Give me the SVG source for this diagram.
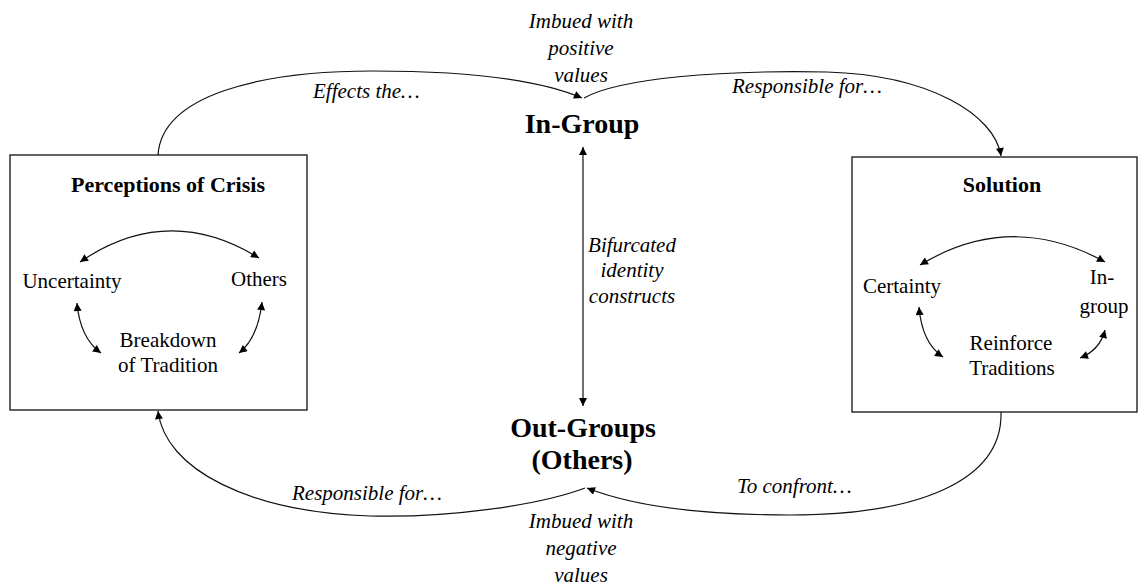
<svg xmlns="http://www.w3.org/2000/svg" width="1139" height="587" viewBox="0 0 1139 587">
<defs>
<style>
.box{fill:#fff;stroke:#222;stroke-width:1.4}
.ln{fill:none;stroke:#111;stroke-width:1.2}
.t{font-family:"Liberation Serif","Times New Roman",serif;font-size:21px;fill:#000}
.i{font-style:italic}
.b{font-weight:bold}
.h{font-size:22px}
.big{font-size:28px}
.m{text-anchor:middle}
</style>
<marker id="ah" viewBox="0 0 10 10" refX="10" refY="5" markerWidth="9" markerHeight="8" markerUnits="userSpaceOnUse" orient="auto-start-reverse">
<path d="M0,0 L10,5 L0,10 Z" fill="#000"/>
</marker>
</defs>
<rect width="1139" height="587" fill="#fff"/>

<g id="perceptions-of-crisis">
<rect class="box" x="10" y="155" width="297" height="255"/>
<text class="t b h m" x="168" y="192">Perceptions of Crisis</text>
<text class="t m" x="72" y="288">Uncertainty</text>
<text class="t m" x="259" y="286">Others</text>
<text class="t m" x="168" y="347">Breakdown</text>
<text class="t m" x="168" y="372">of Tradition</text>
</g>

<g id="solution">
<rect class="box" x="852" y="157" width="285" height="255"/>
<text class="t b h m" x="1002" y="192">Solution</text>
<text class="t m" x="902" y="293">Certainty</text>
<text class="t m" x="1102" y="284">In-</text>
<text class="t m" x="1104" y="313">group</text>
<text class="t m" x="1011" y="350">Reinforce</text>
<text class="t m" x="1012" y="375">Traditions</text>
</g>

<g id="in-group">
<text class="t b big m" x="582" y="133">In-Group</text>
</g>

<g id="out-groups">
<text class="t b big m" x="583" y="437">Out-Groups</text>
<text class="t b big m" x="582" y="469">(Others)</text>
</g>

<g id="connectors">
<path class="ln" d="M158,155 C162,95 260,71 373,71 C470,71 540,80 582,98" marker-end="url(#ah)"/>
<path class="ln" d="M584,98 C620,78 720,70 827,72 C930,75 995,115 1001,156" marker-end="url(#ah)"/>
<path class="ln" d="M1001,412 C1003,480 920,515 790,515 C700,515 630,505 587,488" marker-end="url(#ah)"/>
<path class="ln" d="M585,488 C540,505 450,518 370,516 C250,512 165,470 158,411" marker-end="url(#ah)"/>
<path class="ln" d="M583,147 L583,406" marker-start="url(#ah)" marker-end="url(#ah)"/>

<path class="ln" d="M80,262 Q168,202 259,258" marker-start="url(#ah)" marker-end="url(#ah)"/>
<path class="ln" d="M77,303 Q80,338 101,353" marker-start="url(#ah)" marker-end="url(#ah)"/>
<path class="ln" d="M262,302 Q258,338 239,353" marker-start="url(#ah)" marker-end="url(#ah)"/>

<path class="ln" d="M920,265 Q1011,210 1105,262" marker-start="url(#ah)" marker-end="url(#ah)"/>
<path class="ln" d="M919,307 Q922,343 943,357" marker-start="url(#ah)" marker-end="url(#ah)"/>
<path class="ln" d="M1105,330 Q1100,350 1080,358" marker-start="url(#ah)" marker-end="url(#ah)"/>

<text class="t i m" x="581" y="28">Imbued with</text>
<text class="t i m" x="581" y="55">positive</text>
<text class="t i m" x="581" y="82">values</text>
<text class="t i" x="313" y="98">Effects the…</text>
<text class="t i" x="732" y="93">Responsible for…</text>
<text class="t i m" x="632" y="252">Bifurcated</text>
<text class="t i m" x="632" y="277">identity</text>
<text class="t i m" x="632" y="303">constructs</text>
<text class="t i" x="292" y="500">Responsible for…</text>
<text class="t i" x="737" y="493">To confront…</text>
<text class="t i m" x="581" y="528">Imbued with</text>
<text class="t i m" x="581" y="555">negative</text>
<text class="t i m" x="581" y="582">values</text>
</g>
</svg>
